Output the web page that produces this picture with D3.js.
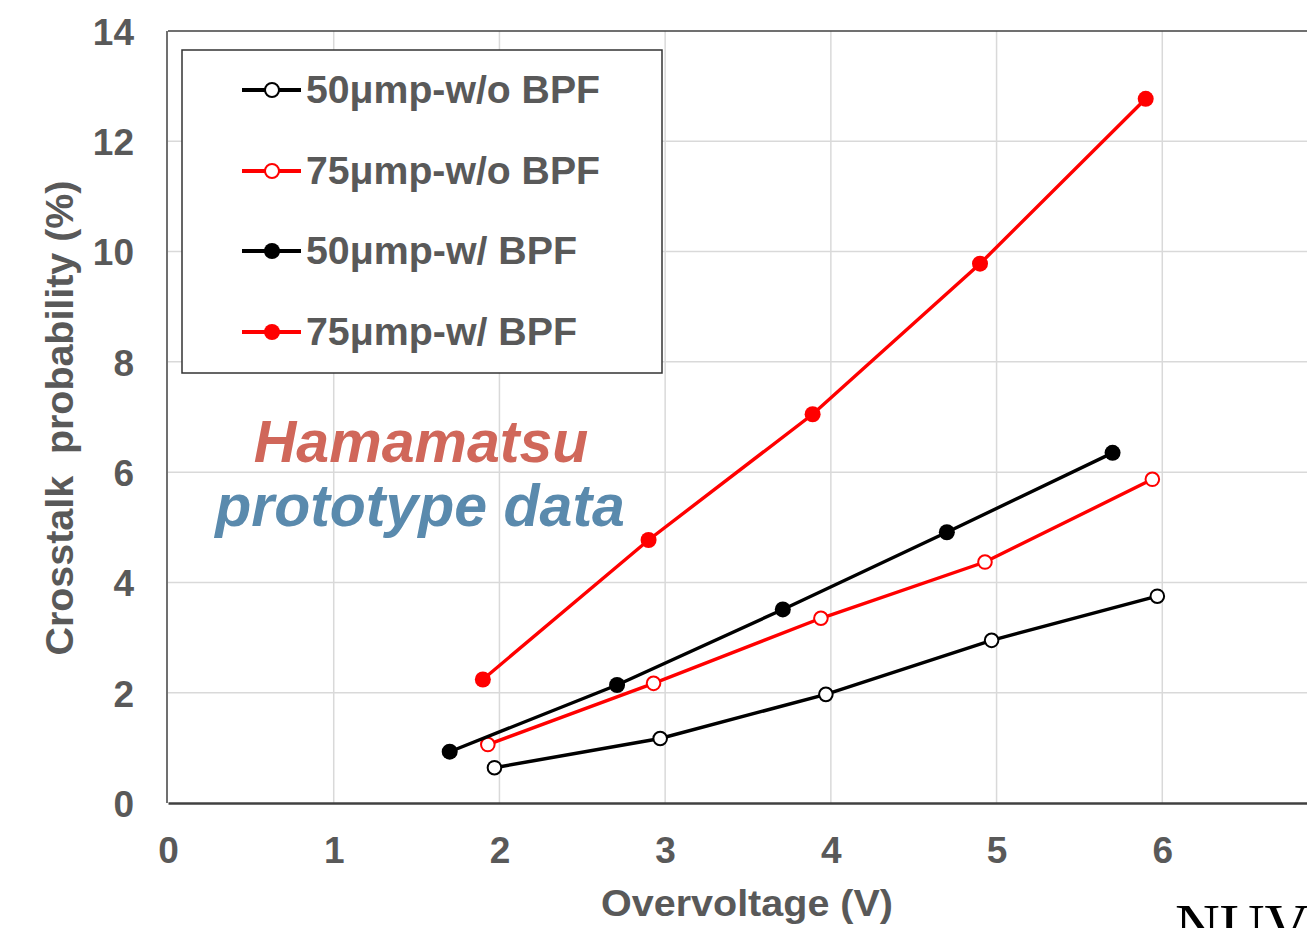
<!DOCTYPE html>
<html><head><meta charset="utf-8">
<script src="https://cdn.jsdelivr.net/npm/d3@7"></script>
<style>html,body{margin:0;padding:0;background:#fff;overflow:hidden}</style>
</head><body>
<svg id="chart" width="1307" height="928"></svg>
<script>
const xTicks = [0,1,2,3,4,5,6];
const yTicks = [0,2,4,6,8,10,12,14];
const seriesNames = ["50μmp-w/o BPF","75μmp-w/o BPF","50μmp-w/ BPF","75μmp-w/ BPF"];
const seriesColors = ["#000000","#ff0000","#000000","#ff0000"];
const seriesFilled = [false,false,true,true];
const s50woX = [1.97,2.97,3.97,4.97,5.97];
const s50woY = [0.64,1.17,1.97,2.95,3.75];
const s75woX = [1.93,2.93,3.94,4.93,5.94];
const s75woY = [1.06,2.17,3.35,4.37,5.87];
const s50wX = [1.70,2.71,3.71,4.70,5.70];
const s50wY = [0.93,2.14,3.51,4.91,6.35];
const s75wX = [1.90,2.90,3.89,4.90,5.90];
const s75wY = [2.24,4.77,7.05,9.78,12.77];
const seriesX = [s50woX,s75woX,s50wX,s75wX];
const seriesY = [s50woY,s75woY,s50wY,s75wY];

const svg = d3.select("#chart");
const x = d3.scaleLinear().domain([0,7]).range([168,1328]);
const y = d3.scaleLinear().domain([0,14]).range([803,31]);
const gray = "#595959";
const font = "'Liberation Sans', Arial, sans-serif";

// gridlines
svg.append("g").selectAll("line").data(xTicks.filter(d=>d>0)).join("line")
  .attr("x1",d=>x(d)).attr("x2",d=>x(d)).attr("y1",y(0)).attr("y2",y(14))
  .attr("stroke","#d9d9d9").attr("stroke-width",1.5);
svg.append("g").selectAll("line").data(yTicks.filter(d=>d>0&&d<14)).join("line")
  .attr("x1",x(0)).attr("x2",x(7)).attr("y1",d=>y(d)).attr("y2",d=>y(d))
  .attr("stroke","#d9d9d9").attr("stroke-width",1.5);

// frame
svg.append("line").attr("x1",x(0)).attr("x2",x(7)).attr("y1",y(14)).attr("y2",y(14)).attr("stroke","#404040").attr("stroke-width",1.5);
svg.append("line").attr("x1",x(0)-1).attr("x2",x(0)-1).attr("y1",y(14)).attr("y2",y(0)).attr("stroke","#404040").attr("stroke-width",1.5);

// axes via d3
const xAxis = svg.append("g").attr("transform",`translate(0,${y(0)})`)
  .call(d3.axisBottom(x).tickValues(xTicks).tickSize(0).tickPadding(34).tickFormat(d3.format("d")));
xAxis.select(".domain").attr("stroke","#404040").attr("stroke-width",2.5);
xAxis.selectAll("text").attr("font-family",font).attr("font-weight","bold").attr("font-size",37).attr("fill",gray);

const yAxis = svg.append("g").attr("transform",`translate(${x(0)},0)`)
  .call(d3.axisLeft(y).tickValues(yTicks).tickSize(0).tickPadding(34).tickFormat(d3.format("d")));
yAxis.select(".domain").remove();
yAxis.selectAll("text").attr("font-family",font).attr("font-weight","bold").attr("font-size",37).attr("fill",gray).attr("dy","0.36em");

// axis titles
svg.append("text").attr("x",747).attr("y",916).attr("text-anchor","middle")
  .attr("font-family",font).attr("font-weight","bold").attr("font-size",37).attr("fill",gray)
  .attr("textLength",292).attr("lengthAdjust","spacingAndGlyphs")
  .text("Overvoltage (V)");
svg.append("text").attr("transform","translate(73,418) rotate(-90)").attr("text-anchor","middle")
  .attr("font-family",font).attr("font-weight","bold").attr("font-size",38).attr("fill",gray)
  .attr("textLength",475).attr("lengthAdjust","spacingAndGlyphs")
  .style("white-space","pre")
  .text("Crosstalk  probability (%)");

// series
const line = d3.line().x(d=>x(d[0])).y(d=>y(d[1]));
seriesNames.forEach((name,i)=>{
  const pts = seriesX[i].map((v,j)=>[v,seriesY[i][j]]);
  const g = svg.append("g");
  g.append("path").datum(pts).attr("d",line).attr("fill","none")
    .attr("stroke",seriesColors[i]).attr("stroke-width",3.4);
  g.selectAll("circle").data(pts).join("circle")
    .attr("cx",d=>x(d[0])).attr("cy",d=>y(d[1])).attr("r",seriesFilled[i]?8:6.8)
    .attr("fill",seriesFilled[i]?seriesColors[i]:"#fff")
    .attr("stroke",seriesColors[i]).attr("stroke-width",seriesFilled[i]?0:2);
});

// legend
svg.append("rect").attr("x",182).attr("y",50).attr("width",480).attr("height",323)
  .attr("fill","#fff").attr("stroke","#333").attr("stroke-width",1.5);
const legY = [90,171,251,332];
const legW = [294,294,271,271];
seriesNames.forEach((name,i)=>{
  const g = svg.append("g");
  g.append("line").attr("x1",242).attr("x2",301).attr("y1",legY[i]).attr("y2",legY[i])
    .attr("stroke",seriesColors[i]).attr("stroke-width",4);
  g.append("circle").attr("cx",272).attr("cy",legY[i]).attr("r",seriesFilled[i]?8:7)
    .attr("fill",seriesFilled[i]?seriesColors[i]:"#fff")
    .attr("stroke",seriesColors[i]).attr("stroke-width",seriesFilled[i]?0:2);
  g.append("text").attr("x",306).attr("y",legY[i]+13)
    .attr("font-family",font).attr("font-weight","bold").attr("font-size",38).attr("fill",gray)
    .attr("textLength",legW[i]).attr("lengthAdjust","spacingAndGlyphs")
    .text(name);
});

// annotation
svg.append("text").attr("x",421).attr("y",462).attr("text-anchor","middle")
  .attr("font-family",font).attr("font-weight","bold").attr("font-style","italic").attr("font-size",59)
  .attr("fill","#d0675a").text("Hamamatsu");
svg.append("text").attr("x",420).attr("y",526).attr("text-anchor","middle")
  .attr("font-family",font).attr("font-weight","bold").attr("font-style","italic").attr("font-size",59)
  .attr("fill","#5a8aad").text("prototype data");

svg.append("text").attr("x",1175).attr("y",946)
  .attr("font-family","'Liberation Serif', 'Times New Roman', serif").attr("font-size",62).attr("fill","#000")
  .text("NUV");
</script>
</body></html>
